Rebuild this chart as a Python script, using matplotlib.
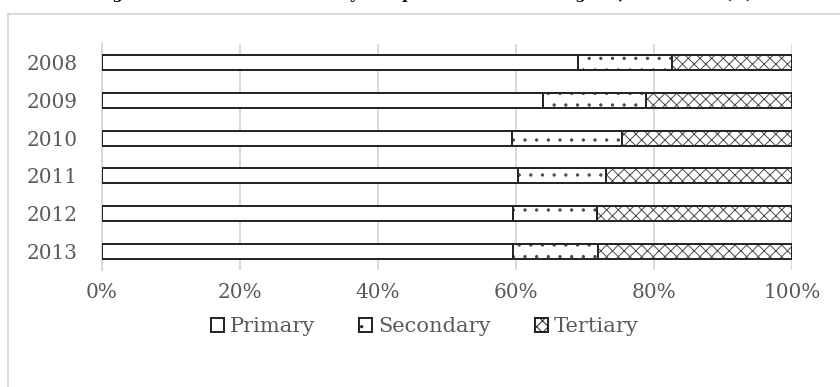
import matplotlib
matplotlib.use("Agg")
import matplotlib.pyplot as plt
import matplotlib.patches as mpatches
from matplotlib.ticker import PercentFormatter

# ── Data ──────────────────────────────────────────────────────────────────────
YEARS = ["2008", "2009", "2010", "2011", "2012", "2013"]
PRIMARY = [69.0, 63.9, 59.4, 60.3, 59.6, 59.6]
SECONDARY = [13.6, 14.9, 16.0, 12.7, 12.1, 12.3]
TERTIARY = [17.4, 21.2, 24.6, 27.0, 28.3, 28.1]
SERIES = ["Primary", "Secondary", "Tertiary"]
X_TICKS = [0, 20, 40, 60, 80, 100]
TITLE = "Figure 2: Share of Real GDP by Component Sectors of Nigeria, 2008-2013 (%)"

# ── Style ─────────────────────────────────────────────────────────────────────
DPI = 70                      # hatch cell = 1 inch, so this sets hatch spacing
W, H = 840, 387
TEXT = "#595959"
GRID = "#d9d9d9"
EDGE = "#262626"
HATCHES = [None, ".", "xx"]

plt.rcParams["font.family"] = ["DejaVu Serif"]
plt.rcParams["hatch.linewidth"] = 1.0


def px(v):
    """Pixel distance -> points at the figure dpi."""
    return v * 72.0 / DPI


fig = plt.figure(figsize=(W / DPI, H / DPI), dpi=DPI)
ax = fig.add_axes([102 / W, 1 - 270 / H, 690 / W, 226 / H])

ypos = list(range(len(YEARS)))
lefts = [0.0] * len(YEARS)
for name, vals, hatch in zip(SERIES, [PRIMARY, SECONDARY, TERTIARY], HATCHES):
    # hatch layer, then a crisp outline on top
    ax.barh(ypos, vals, left=lefts, height=0.4, color="white",
            hatch=hatch, edgecolor="#4a4a4a", linewidth=0, zorder=2)
    ax.barh(ypos, vals, left=lefts, height=0.4, fill=False,
            edgecolor=EDGE, linewidth=px(2), zorder=3)
    lefts = [l + v for l, v in zip(lefts, vals)]

ax.set_xlim(0, 100)
ax.set_ylim(len(YEARS) - 0.5, -0.5)
ax.set_yticks(ypos)
ax.set_yticklabels(YEARS)
ax.set_xticks(X_TICKS)
ax.xaxis.set_major_formatter(PercentFormatter(decimals=0))
ax.tick_params(axis="y", length=0, pad=px(24), labelsize=px(20), labelcolor=TEXT)
ax.tick_params(axis="x", length=0, pad=px(13), labelsize=px(20), labelcolor=TEXT)

ax.grid(axis="x", color=GRID, linewidth=px(2), zorder=0)
ax.set_axisbelow(True)
for side in ["top", "right", "bottom"]:
    ax.spines[side].set_visible(False)
ax.spines["left"].set_color(GRID)
ax.spines["left"].set_linewidth(px(2))

# legend with square pattern swatches
handles = [
    mpatches.Patch(facecolor="white", edgecolor=EDGE, hatch=h, linewidth=px(2), label=n)
    for n, h in zip(SERIES, HATCHES)
]
fig.legend(handles=handles, loc="center", bbox_to_anchor=(425 / W, 1 - 327 / H),
           ncol=3, frameon=False, fontsize=px(21), labelcolor=TEXT,
           handlelength=0.6, handleheight=0.6, handletextpad=0.3,
           columnspacing=2.1)

# chart-area frame (runs off the right and bottom edges)
fig.patches.append(mpatches.Rectangle(
    (8 / W, -0.2), 1.2, 1.2 - 14 / H, transform=fig.transFigure,
    fill=False, edgecolor=GRID, linewidth=px(2)))

fig.text(425 / W, 1 + 1.0 / H, TITLE, ha="center", va="baseline",
         fontsize=px(15), fontweight="bold", color="black")

fig.savefig("out.png", dpi=DPI)
